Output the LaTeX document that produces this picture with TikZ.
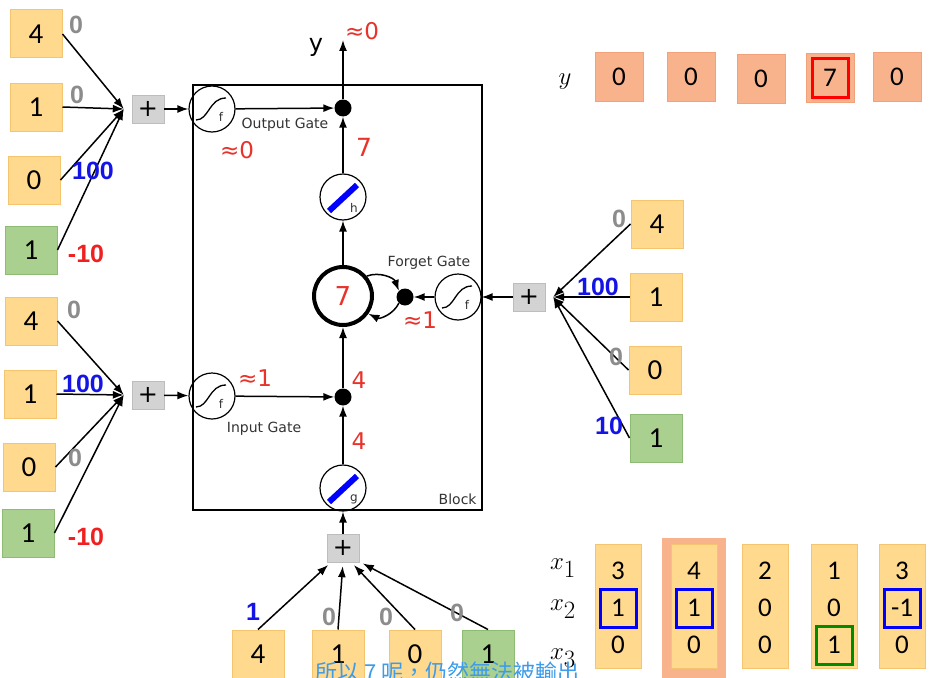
\documentclass[tikz,border=0pt]{standalone}
\usepackage{fontspec}
\setmainfont{Carlito}
\newfontfamily\labelfont{DejaVu Sans}
\newfontfamily\wfont{Liberation Sans}
\newfontfamily\cjkfont{Noto Sans CJK TC}
\usepackage{amsmath}
\usetikzlibrary{arrows.meta, positioning, calc}

\definecolor{boxfill}{HTML}{FFD98E}
\definecolor{boxline}{HTML}{F5C46E}
\definecolor{biasfill}{HTML}{A9D08E}
\definecolor{biasline}{HTML}{8DBB73}
\definecolor{outfill}{HTML}{F8B28C}
\definecolor{outline}{HTML}{F2A27A}
\definecolor{plusfill}{HTML}{D3D3D3}
\definecolor{plusline}{HTML}{BDBDBD}
\definecolor{wgray}{HTML}{8C8C8C}
\definecolor{wblue}{HTML}{1414E6}
\definecolor{wred}{HTML}{F02020}
\definecolor{valred}{HTML}{E8322A}
\definecolor{subblue}{HTML}{3D9BE9}

\begin{document}
\begin{tikzpicture}[
				x=1pt, y=-1pt,
				inbox/.style={rectangle, draw=boxline, fill=boxfill, line width=1pt,
					minimum width=52pt, minimum height=48pt, inner sep=0pt, font=\fontsize{29}{29}\selectfont},
				biasbox/.style={inbox, draw=biasline, fill=biasfill},
				outbox/.style={inbox, draw=outline, fill=outfill, minimum width=48pt, font=\fontsize{27}{27}\selectfont},
				tcol/.style={rectangle, draw=boxline, fill=boxfill, line width=1pt,
					minimum width=46pt, minimum height=124pt, inner sep=0pt},
				tval/.style={font=\fontsize{27}{27}\selectfont, inner sep=0pt},
				plusbox/.style={rectangle, draw=plusline, fill=plusfill, minimum width=32pt,
					minimum height=28pt, inner sep=0pt, font=\labelfont\fontsize{24}{24}\selectfont},
				gate/.style={circle, draw, line width=1.2pt, minimum size=46pt, inner sep=0pt},
				cell/.style={circle, draw, line width=4pt, minimum size=58pt, inner sep=0pt},
				dot/.style={circle, fill=black, minimum size=17pt, inner sep=0pt},
				arrow/.style={-{Latex[length=11pt,width=8pt]}, line width=1.5pt},
				wt/.style={font=\wfont\bfseries\fontsize{25}{25}\selectfont, inner sep=0pt},
				wzero/.style={wt, text=wgray},
				wpos/.style={wt, text=wblue},
				wneg/.style={wt, text=wred},
				val/.style={font=\labelfont\fontsize{23}{23}\selectfont, text=valred, inner sep=0pt},
				annot/.style={font=\labelfont\fontsize{14}{14}\selectfont, text=black!80, inner sep=0pt},
				mlab/.style={font=\fontsize{35}{35}\selectfont, inner sep=0pt},
				hl/.style={draw, line width=3pt, minimum width=36pt, minimum height=38pt, inner sep=0pt}
				]
				\fill[white] (0,0) rectangle (936,677);
				\useasboundingbox (0,0) rectangle (936,677);
				
				% --- Memory block ---
				\node[draw, line width=1.5pt, minimum width=289pt, minimum height=425pt] (blk) at (337.5,297.5) {};
				\node[annot, anchor=south east] at ($(blk.south east)+(-6,-6)$) {Block};
				
				\node[gate] (og) at (212,109) {};
				\node[gate] (ig) at (212,396) {};
				\node[gate] (fg) at (458,297) {};
				\node[gate] (hc) at (343,197) {};
				\node[gate] (gc) at (343,488) {};
				\node[cell] (cell) at (343,296) {};
				\node[val, font=\labelfont\fontsize{26}{26}\selectfont] at (cell) {7};
				\node[dot] (odot) at (343,108) {};
				\node[dot] (idot) at (343,397) {};
				\node[dot] (fdot) at (405,297) {};
				
				\foreach \g in {og,ig,fg}{
					\draw[line width=1.3pt] ($(\g)+(-16,11)$) .. controls ($(\g)+(-3,11)$) and ($(\g)+(-3,-11)$) .. ($(\g)+(14,-11)$);
					\node[annot, font=\labelfont\fontsize{12}{12}\selectfont] at ($(\g)+(9,8)$) {f};
				}
				\foreach \g/\l in {hc/h, gc/g}{
					\draw[blue, line width=6pt] ($(\g)+(-14,14)$) -- ($(\g)+(14,-12)$);
					\node[annot, font=\labelfont\fontsize{12}{12}\selectfont] at ($(\g)+(11,11)$) {\l};
				}
				
				\node[annot] at (285,125) {Output Gate};
				\node[annot] at (264,429) {Input Gate};
				\node[annot] at (429,263) {Forget Gate};
				
				\coordinate (yout) at (343,40);
				\draw[arrow] (odot) -- (yout);
				\node[font=\labelfont\fontsize{24}{24}\selectfont, inner sep=0pt] at (316,47) {y};
				\node[val] at (362,31) {≈0};
				\draw[arrow] (og) -- (odot);
				\draw[arrow] (hc) -- (odot);
				\draw[arrow] (cell) -- (hc);
				\draw[arrow] (idot) -- (cell);
				\draw[arrow] (ig) -- (idot);
				\draw[arrow] (gc) -- (idot);
				\draw[arrow] (fg) -- (fdot);
				\draw[arrow] (cell.40) to[bend left=45] (fdot.north west);
				\draw[arrow] (fdot.south west) to[bend left=45] (cell.-35);
				
				\node[val] at (237,150) {≈0};
				\node[val, font=\labelfont\fontsize{25}{25}\selectfont] at (364,147) {7};
				\node[val] at (420,320) {≈1};
				\node[val] at (255,378) {≈1};
				\node[val] at (359,380) {4};
				\node[val] at (359,441) {4};
				
				% --- Output gate inputs (left top) ---
				\node[inbox] (a1) at (36,34) {4};
				\node[inbox] (a2) at (36,107) {1};
				\node[inbox] (a3) at (34,180) {0};
				\node[biasbox] (a4) at (31,250) {1};
				\node[plusbox] (lp1) at (148,109) {+};
				\coordinate[left=8pt of lp1] (lj1);
				\foreach \n in {a1,a2,a3,a4} \draw[arrow] (\n.east) -- (lj1);
				\draw[arrow] (lp1) -- (og);
				\node[wzero] (wa1) at (76,25) {0};
				\node[wzero] (wa2) at (77,95) {0};
				\node[wpos] (wa3) at (93,171) {100};
				\node[wneg] (wa4) at (86,254) {-10};
				
				% --- Input gate inputs (left bottom) ---
				\node[inbox] (b1) at (31,321) {4};
				\node[inbox] (b2) at (30,394) {1};
				\node[inbox] (b3) at (29,467) {0};
				\node[biasbox] (b4) at (28,533) {1};
				\node[plusbox] (lp2) at (148,395) {+};
				\coordinate[left=8pt of lp2] (lj2);
				\foreach \n in {b1,b2,b3,b4} \draw[arrow] (\n.east) -- (lj2);
				\draw[arrow] (lp2) -- (ig);
				\node[wzero] (wb1) at (74,310) {0};
				\node[wpos] (wb2) at (83,384) {100};
				\node[wzero] (wb3) at (75,458) {0};
				\node[wneg] (wb4) at (86,537) {-10};
				
				% --- Forget gate inputs (right) ---
				\node[inbox] (e1) at (657,224) {4};
				\node[inbox] (e2) at (656,297) {1};
				\node[inbox] (e3) at (655,370) {0};
				\node[biasbox] (e4) at (656,438) {1};
				\node[plusbox] (rp) at (529,297) {+};
				\coordinate[right=8pt of rp] (rj);
				\foreach \n in {e1,e2,e3,e4} \draw[arrow] (\n.west) -- (rj);
				\draw[arrow] (rp) -- (fg);
				\node[wzero] (we1) at (619,219) {0};
				\node[wpos] (we2) at (598,287) {100};
				\node[wzero] (we3) at (616,357) {0};
				\node[wpos] (we4) at (609,426) {10};
				
				% --- Cell input (bottom) ---
				\node[inbox] (d1) at (258,654) {4};
				\node[inbox] (d2) at (338,654) {1};
				\node[inbox] (d3) at (415,654) {0};
				\node[biasbox] (d4) at (488,654) {1};
				\node[plusbox] (bp) at (343,548) {+};
				\draw[arrow, shorten >=4pt] (d1.north) -- (bp.-130);
				\draw[arrow, shorten >=4pt] (d2.north) -- (bp.-90);
				\draw[arrow, shorten >=4pt] (d3.north) -- (bp.-60);
				\draw[arrow, shorten >=4pt] (d4.north) -- (bp.-40);
				\draw[arrow] (bp) -- (gc);
				\node[wpos] (wd1) at (253,612) {1};
				\node[wzero] (wd2) at (329,617) {0};
				\node[wzero] (wd3) at (386,617) {0};
				\node[wzero] (wd4) at (457,613) {0};
				
				% --- Output sequence y ---
				\node[mlab] (ylab) at (565,82) {$y$};
				\node[outbox] (y1) at (619,77) {0};
				\node[outbox] (y2) at (691,77) {0};
				\node[outbox] (y3) at (761,79) {0};
				\node[outbox] (y4) at (830,78) {7};
				\node[outbox] (y5) at (897,77) {0};
				\node[hl, draw=red, minimum height=39pt] at (y4) {};
				
				% --- Input sequence x ---
				\node[mlab] (x1lab) at (563,568) {$x_1$};
				\node[mlab] (x2lab) at (563,609) {$x_2$};
				\node[mlab] (x3lab) at (563,658) {$x_3$};
				\node[rectangle, fill=outfill, minimum width=64pt, minimum height=150pt] (cur) at (694,613) {};
				\foreach \i/\x/\a/\b/\c in {1/618/3/1/0, 2/694/4/1/0, 3/765/2/0/0, 4/834/1/0/1, 5/902/3/-1/0}{
					\node[tcol] (col\i) at (\x,606) {};
					\node[tval] (ra\i) at (\x,571) {\a};
					\node[tval] (rb\i) at (\x,608) {\b};
					\node[tval] (rc\i) at (\x,645) {\c};
				}
				\foreach \n in {rb1,rb2,rb5} \node[hl, draw=blue] at (\n) {};
				\node[hl, draw=green!55!black] at (rc4) {};
				
				\node[anchor=north west, text=subblue, font=\cjkfont\fontsize{22}{22}\selectfont, inner sep=0pt] (sub) at (315,662) {所以 7 呢，仍然無法被輸出};
			\end{tikzpicture}
\end{document}
